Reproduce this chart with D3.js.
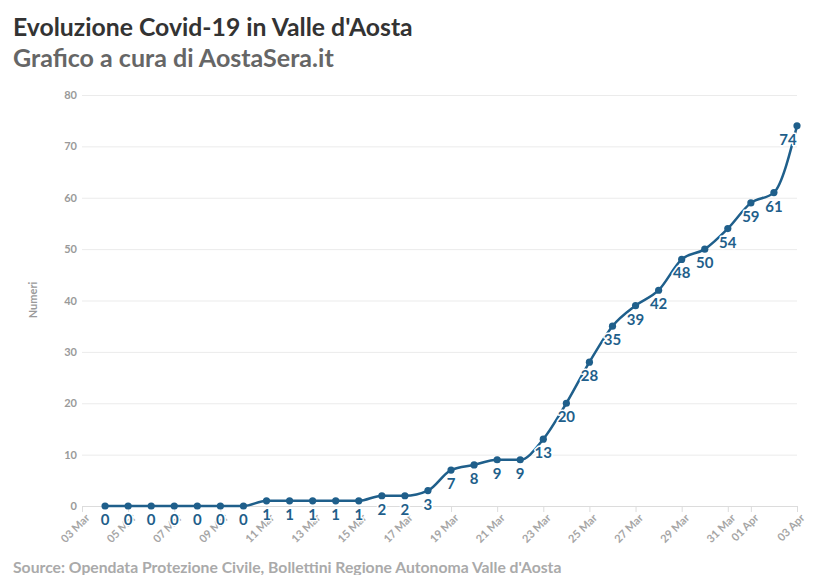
<!DOCTYPE html>
<html><head><meta charset="utf-8">
<script src="https://cdn.jsdelivr.net/npm/d3@7"></script>
<style>
html,body{margin:0;padding:0;background:#fff;}
svg{display:block;font-family:Lato,"Open Sans",sans-serif;}
</style></head>
<body><svg id="c" width="816" height="575"></svg>
<script>
const startDate = "2020-03-04";
const casi = [0,0,0,0,0,0,0,1,1,1,1,1,2,2,3,7,8,9,9,13,20,28,35,39,42,48,50,54,59,61,74];
const domainStart = "2020-03-03", domainEnd = "2020-04-03";
const yTicks = [0,10,20,30,40,50,60,70,80];
const titolo = "Evoluzione Covid-19 in Valle d'Aosta";
const sottotitolo = "Grafico a cura di AostaSera.it";
const fonte = "Source: Opendata Protezione Civile, Bollettini Regione Autonoma Valle d'Aosta";
const yTitolo = "Numeri";

const parse = s => { const [y,m,d] = s.split("-").map(Number); return new Date(y, m-1, d); };
const s0 = parse(startDate);
const data = casi.map((v,i) => ({date: d3.timeDay.offset(s0, i), value: v}));

const svg = d3.select("#c");
const color = "#1f5f8b";
const x = d3.scaleTime().domain([parse(domainStart), parse(domainEnd)]).range([82, 797]);
const y = d3.scaleLinear().domain([0, 80]).range([506, 95]);

function fit(sel, target, size){
  sel.attr("font-size", size);
  const w = sel.node().getComputedTextLength();
  sel.attr("font-size", size * target / w);
}

// Titles
const t1 = svg.append("text").attr("x", 13).attr("y", 36).attr("font-weight", 700).attr("fill", "#333").text(titolo);
fit(t1, 400, 21);
const t2 = svg.append("text").attr("x", 13).attr("y", 67).attr("font-weight", 700).attr("fill", "#666").text(sottotitolo);
fit(t2, 321, 20);

// Grid + y axis
const yAxis = svg.append("g").attr("transform", "translate(82,0)")
  .call(d3.axisLeft(y).tickValues(yTicks).tickSize(-715).tickPadding(5));
yAxis.select(".domain").remove();
yAxis.selectAll(".tick line").attr("stroke", "#ebebeb");
yAxis.selectAll(".tick text").attr("fill", "#9a9a9a").attr("font-size", 11).attr("font-weight", 700).attr("font-family", "Lato");

svg.append("text").attr("transform", "translate(37,300) rotate(-90)")
  .attr("text-anchor", "middle").attr("fill", "#9a9a9a").attr("font-size", 11).attr("font-weight", 700).text(yTitolo);

// x axis
const xAxis = svg.append("g").attr("transform", "translate(0,506)")
  .call(d3.axisBottom(x).ticks(d3.timeDay.every(2)).tickFormat(d3.timeFormat("%d %b")).tickSize(6).tickSizeOuter(0));
xAxis.select(".domain").attr("stroke", "#dcdcdc");
xAxis.selectAll(".tick line").attr("stroke", "#dcdcdc");
xAxis.selectAll(".tick text").attr("fill", "#a5a5a5").attr("font-size", 11).attr("font-weight", 700).attr("font-family", "Lato")
  .attr("text-anchor", "end").attr("dx", "-0.3em").attr("dy", "0.5em").attr("transform", "rotate(-45)");

// Line
svg.append("path").datum(data)
  .attr("fill", "none").attr("stroke", color).attr("stroke-width", 2.5)
  .attr("d", d3.line().x(d => x(d.date)).y(d => y(d.value)).curve(d3.curveMonotoneX));

svg.append("g").selectAll("circle").data(data).join("circle")
  .attr("cx", d => x(d.date)).attr("cy", d => y(d.value)).attr("r", 3.6).attr("fill", color);

// Data labels
const labels = svg.append("g").selectAll("text").data(data).join("text")
  .attr("x", d => x(d.date)).attr("y", d => y(d.value) + 19)
  .attr("text-anchor", "middle").attr("fill", color).attr("font-size", 15).attr("font-weight", 700)
  .attr("stroke", "#fff").attr("stroke-width", 3).attr("paint-order", "stroke").attr("stroke-linejoin", "round")
  .text(d => d.value);
labels.each(function(){
  const b = this.getBBox();
  if (b.x + b.width > 797) d3.select(this).attr("x", +d3.select(this).attr("x") - (b.x + b.width - 797));
});

// Source
const f = svg.append("text").attr("x", 13).attr("y", 573).attr("font-weight", 700).attr("fill", "#aaaaaa").text(fonte);
fit(f, 549, 15);
</script></body></html>
